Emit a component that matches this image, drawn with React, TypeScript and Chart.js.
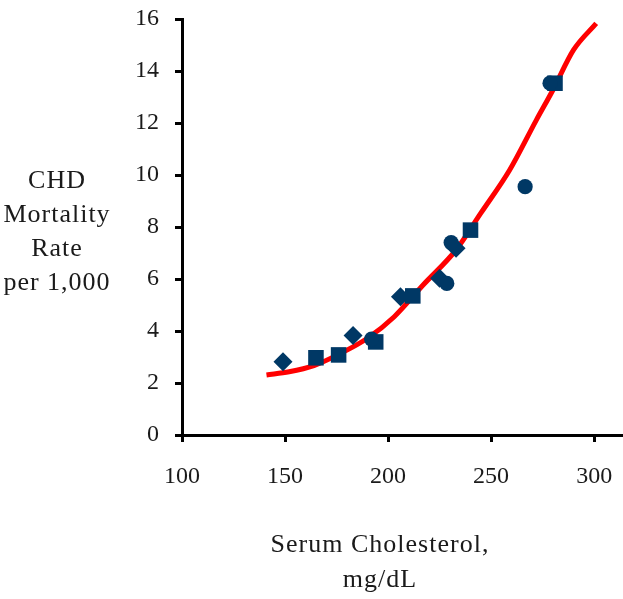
import React, { useEffect, useRef } from "react";
import { Chart, registerables } from "chart.js";

Chart.register(...registerables);

const xTicks = [100, 150, 200, 250, 300];
const yTitleLines = ["CHD", "Mortality", "Rate", "per 1,000"];
const xTitleLines = ["Serum Cholesterol,", "mg/dL"];

const diamondX = [149, 183, 206, 225, 233];
const diamondY = [2.82, 3.83, 5.32, 6.03, 7.18];
const squareX = [165, 176, 194, 212, 240, 281];
const squareY = [2.97, 3.08, 3.58, 5.35, 7.88, 13.53];
const circleX = [192, 228.5, 230.6, 266.5, 278.6];
const circleY = [3.69, 5.83, 7.4, 9.55, 13.53];
const curveX = [141, 152, 164, 177, 190, 203, 217, 233, 245, 259, 272, 280, 290, 301];
const curveY = [2.31, 2.43, 2.67, 3.14, 3.72, 4.55, 5.77, 7.12, 8.53, 10.19, 12.12, 13.27, 14.81, 15.83];

const FONT = "'Liberation Serif', 'Times New Roman', serif";
const NAVY = "#003865";

const zip = (xs: number[], ys: number[]) => xs.map((x, i) => ({ x, y: ys[i] }));

const resetSpacing = (ctx: any) => {
  try {
    ctx.letterSpacing = "0px";
  } catch (e) {}
};

const titlePlugin = {
  id: "titles",
  beforeDraw(chart: any) {
    resetSpacing(chart.ctx);
  },
  afterDraw(chart: any) {
    const ctx = chart.ctx as CanvasRenderingContext2D;
    ctx.save();
    ctx.fillStyle = "#1a1a1a";
    ctx.font = `26px ${FONT}`;
    ctx.textAlign = "center";
    ctx.textBaseline = "middle";
    try {
      (ctx as any).letterSpacing = "1px";
    } catch (e) {}
    yTitleLines.forEach((t, i) => {
      ctx.fillText(t, 57, 181 + i * 34);
    });
    xTitleLines.forEach((t, i) => {
      ctx.fillText(t, 380, 545 + i * 35);
    });
    resetSpacing(ctx);
    ctx.restore();
  },
};

export default function App() {
  const ref = useRef<HTMLCanvasElement | null>(null);
  useEffect(() => {
    if (!ref.current) return;
    const pointCommon = {
      backgroundColor: NAVY,
      borderColor: NAVY,
      borderWidth: 0,
      showLine: false,
    };
    const chart = new Chart(ref.current, {
      type: "scatter",
      data: {
        datasets: [
          { ...pointCommon, label: "circles", data: zip(circleX, circleY), pointStyle: "circle", pointRadius: 7.6 },
          { ...pointCommon, label: "squares", data: zip(squareX, squareY), pointStyle: "rect", pointRadius: 11 },
          { ...pointCommon, label: "diamonds", data: zip(diamondX, diamondY), pointStyle: "rectRot", pointRadius: 9.5 },
          {
            label: "fit",
            data: zip(curveX, curveY),
            showLine: true,
            borderColor: "#ff0000",
            backgroundColor: "#ff0000",
            borderWidth: 5,
            pointRadius: 0,
            tension: 0.4,
            cubicInterpolationMode: "monotone",
            clip: false,
          } as any,
        ],
      },
      options: {
        animation: false,
        responsive: false,
        devicePixelRatio: 1,
        layout: { autoPadding: false, padding: { top: 19, right: 0, left: 0, bottom: 0 } },
        plugins: { legend: { display: false }, tooltip: { enabled: false }, title: { display: false } },
        scales: {
          x: {
            type: "linear",
            min: 100,
            max: 314,
            afterBuildTicks: (s: any) => {
              s.ticks = xTicks.map((v) => ({ value: v }));
            },
            afterFit: (s: any) => {
              s.height = 164;
              s.paddingLeft = 0;
              s.paddingRight = 0;
            },
            border: { display: true, color: "#000", width: 3 },
            grid: { display: true, drawOnChartArea: false, drawTicks: true, tickLength: 7, color: "#000", lineWidth: 3 },
            ticks: { font: { family: FONT, size: 24 }, color: "#1a1a1a", padding: 20, maxRotation: 0 },
          },
          y: {
            type: "linear",
            min: 0,
            max: 16,
            afterFit: (s: any) => {
              s.width = 182;
              s.paddingTop = 0;
              s.paddingBottom = 0;
            },
            border: { display: true, color: "#000", width: 3 },
            grid: { display: true, drawOnChartArea: false, drawTicks: true, tickLength: 7, color: "#000", lineWidth: 3 },
            ticks: { stepSize: 2, font: { family: FONT, size: 24 }, color: "#1a1a1a", padding: 16 },
          },
        },
      } as any,
      plugins: [titlePlugin],
    });
    return () => chart.destroy();
  }, []);
  return (
    <canvas
      ref={ref}
      width={623}
      height={599}
      style={{ position: "absolute", left: 0, top: 0, width: 623, height: 599, display: "block" }}
    />
  );
}
